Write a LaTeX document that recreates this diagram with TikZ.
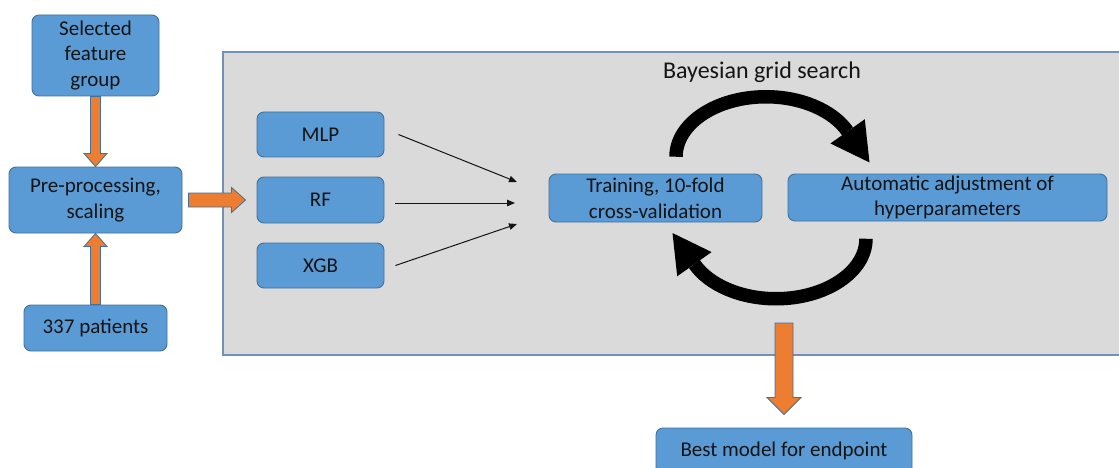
\documentclass[tikz,border=0pt]{standalone}
\usepackage{fontspec}
\setmainfont{Carlito}
\usetikzlibrary{arrows.meta,calc}

\definecolor{boxfill}{HTML}{5B9BD5}
\definecolor{boxline}{HTML}{41719C}
\definecolor{flow}{HTML}{ED7D31}
\definecolor{panelfill}{HTML}{DADADA}
\definecolor{panelline}{HTML}{7391B5}
\definecolor{ink}{HTML}{141414}

\tikzset{
  stepbox/.style={draw=boxline, fill=boxfill, line width=0.9pt,
    rounded corners=7pt, inner sep=0pt, align=center, text=ink,
    font=\fontsize{21}{25.6}\selectfont},
  panel/.style={draw=panelline, fill=panelfill, line width=1.2pt},
  thinarrow/.style={draw=ink, line width=1pt,
    -{Triangle[length=8pt,width=6.5pt]}},
  cyclestroke/.style={draw=black, line width=13.5pt, line cap=butt},
  cyclehead/.style={fill=black},
  flowarrow/.style={draw=boxline, fill=flow, line width=0.8pt, line join=miter},
  % block arrow outline: half shaft width / half head width / head length
  blockarrow/.style n args={3}{
    to path={
      let \p1=(\tikztostart), \p2=(\tikztotarget),
          \n1={veclen(\x2-\x1,\y2-\y1)},
          \n2={atan2(\y2-\y1,\x2-\x1)},
          \n3={\n1-#3}
      in
      ([rotate around={\n2:(\p1)}]\x1,\y1+#1)
      -- ([rotate around={\n2:(\p1)}]\x1+\n3,\y1+#1)
      -- ([rotate around={\n2:(\p1)}]\x1+\n3,\y1+#2)
      -- ([rotate around={\n2:(\p1)}]\x1+\n1,\y1)
      -- ([rotate around={\n2:(\p1)}]\x1+\n3,\y1-#2)
      -- ([rotate around={\n2:(\p1)}]\x1+\n3,\y1-#1)
      -- ([rotate around={\n2:(\p1)}]\x1,\y1-#1)
      -- cycle
    }},
}

\begin{document}
\begin{tikzpicture}[x=1pt, y=-1pt]
  \useasboundingbox (0,0) rectangle (1119,468);
  \clip (0,0) rectangle (1119,468);
  \fill[white] (0,0) rectangle (1119,468);

  % grey working area
  \path[panel] (223,52) rectangle (1130,355);

  % input side
  \node[stepbox, minimum width=127pt, minimum height=81pt] (sel) at (95.5,55.5)
    {Selected\\feature\\group};
  \node[stepbox, minimum width=173pt, minimum height=66pt] (pre) at (95.5,200)
    {Pre-processing,\\scaling};
  \node[stepbox, minimum width=143pt, minimum height=46pt] (pat) at (95.5,328)
    {337 patients};

  % models
  \node[stepbox, minimum width=127pt, minimum height=45pt] (mlp) at (320.5,134.5) {MLP};
  \node[stepbox, minimum width=127pt, minimum height=46pt] (rf)  at (320.5,200) {RF};
  \node[stepbox, minimum width=127pt, minimum height=45pt] (xgb) at (320.5,265.5) {XGB};

  % optimisation loop
  \node[stepbox, minimum width=213pt, minimum height=48pt] (train) at (655.5,198)
    {Training, 10-fold\\cross-validation};
  \node[stepbox, minimum width=319pt, minimum height=47pt] (auto) at (947.5,197.5)
    {Automatic adjustment of\\hyperparameters};
  \node[text=ink, font=\fontsize{24}{28}\selectfont, inner sep=0pt] (bayes) at (762,72)
    {Bayesian grid search};

  % result
  \node[stepbox, minimum width=256pt, minimum height=46pt] (best) at (784,451)
    {Best model for endpoint};

  % orange flow arrows
  \path[flowarrow] (sel.south) to[blockarrow={5}{11.5}{13}] (pre.north);
  \path[flowarrow] (pat.north) to[blockarrow={5}{11.5}{13}] (pre.south);
  \path[flowarrow] ([xshift=6pt]pre.east) to[blockarrow={7}{12.5}{14}] ([xshift=-11pt]rf.west);
  \coordinate (outstart) at (784,323);
  \path[flowarrow] (outstart) to[blockarrow={9}{17}{17}] ([yshift=13pt]best.north);

  % model arrows converging on the loop
  \coordinate (inA) at (517,182);
  \coordinate (inB) at (515,203);
  \coordinate (inC) at (517,224);
  \draw[thinarrow] ([xshift=14pt]mlp.east) -- (inA);
  \draw[thinarrow] ([xshift=11pt,yshift=-3pt]rf.east) -- (inB);
  \draw[thinarrow] ([xshift=11pt]xgb.east) -- (inC);

  % circular arrows between training and tuning
  \coordinate (hub) at ($(train.east)!0.5!(auto.west)+(-4,0)$);
  \begin{scope}[shift={(hub)}]
    \draw[cyclestroke] (-95,-41) arc[start angle=180, end angle=335, x radius=90, y radius=60];
    \fill[cyclehead] (93.8,-78.5) -- (98.5,-35.3) -- (59.4,-54.3) -- cycle;
    \draw[cyclestroke] (95,41) arc[start angle=0, end angle=155, x radius=90, y radius=60];
    \fill[cyclehead] (-93.8,78.5) -- (-98.5,35.3) -- (-59.4,54.3) -- cycle;
  \end{scope}
\end{tikzpicture}
\end{document}
